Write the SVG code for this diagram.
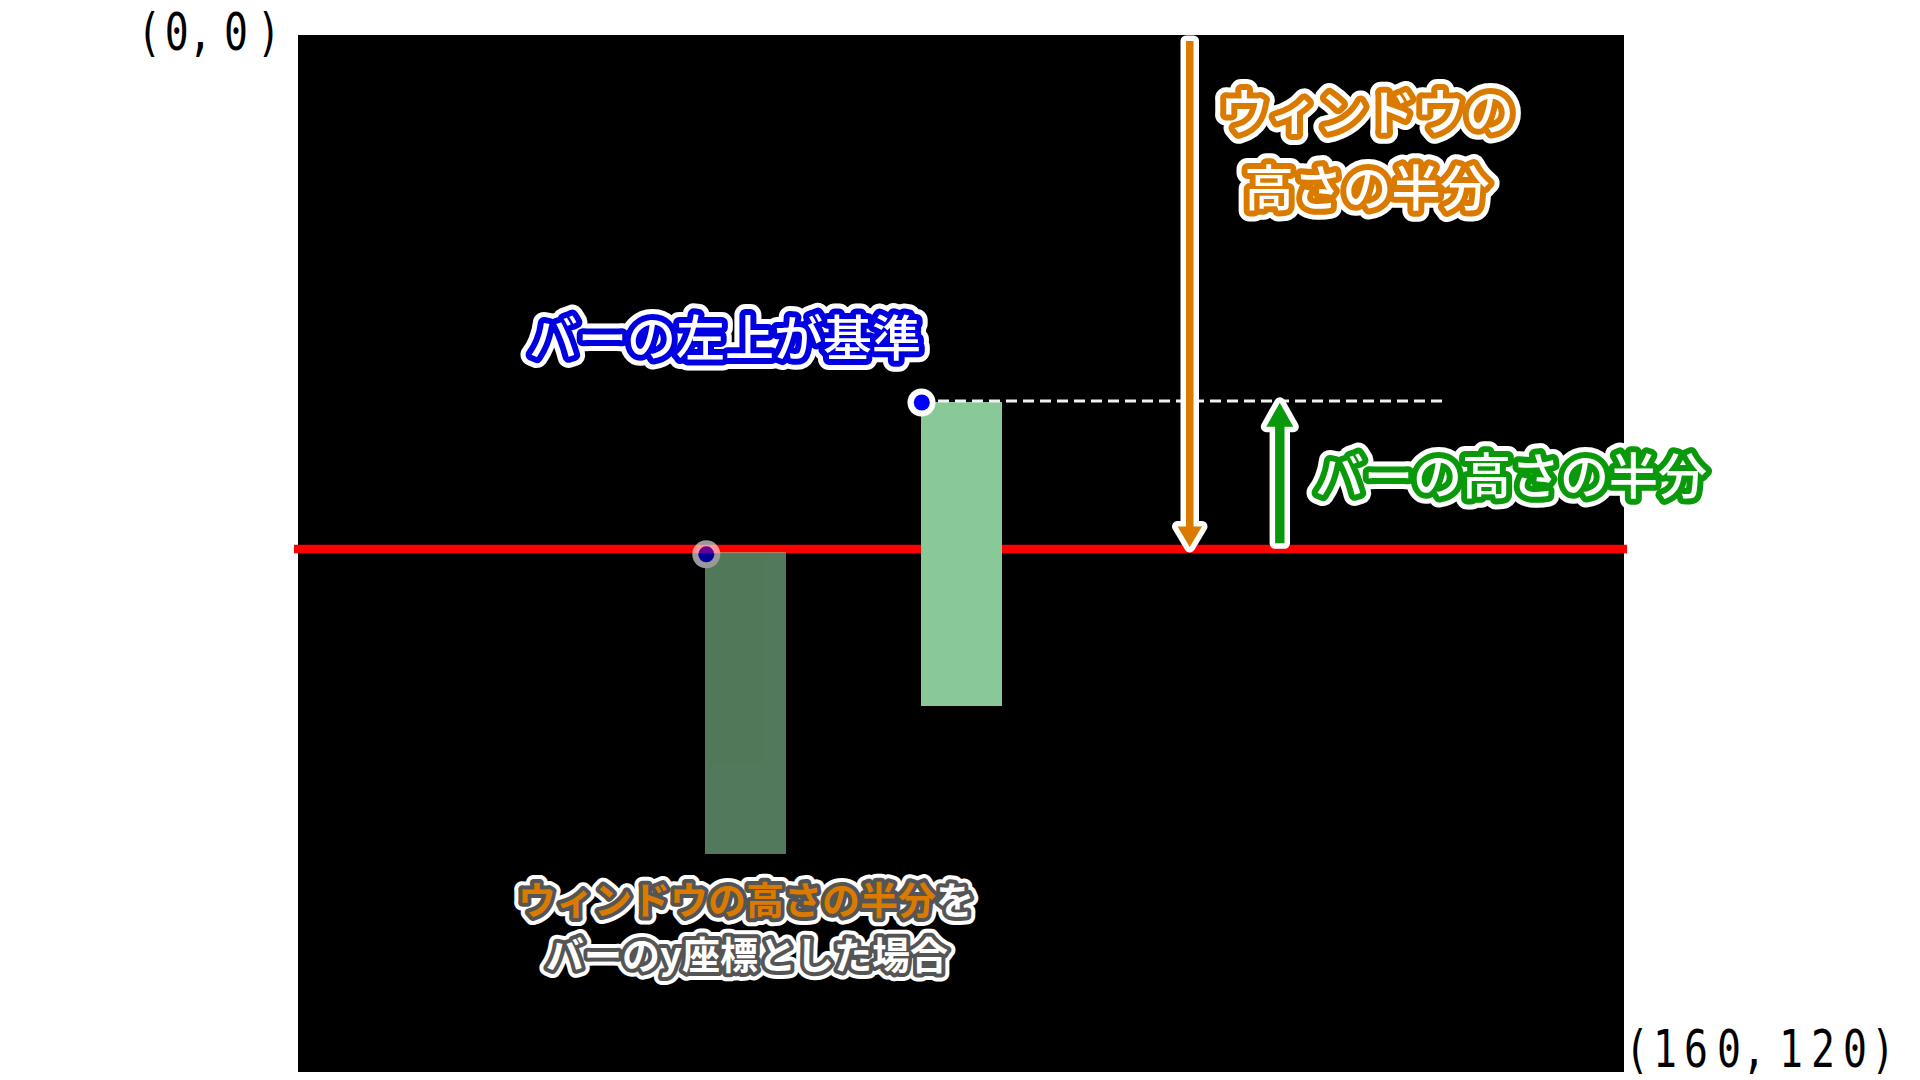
<svg xmlns="http://www.w3.org/2000/svg" width="1920" height="1080" viewBox="0 0 1920 1080">
  <style>
    .coord { font-family: "DejaVu Sans Mono", "Liberation Mono", monospace; font-size: 51px; fill: #000; text-anchor: middle; }
    .jp { font-family: "Noto Sans CJK JP", "Noto Sans", sans-serif; text-anchor: middle; }
    .big { font-size: 49px; font-weight: 500; }
    .small { font-size: 38px; font-weight: 700; }
    .halo { fill: #fff; stroke: #fff; stroke-width: 22px; stroke-linejoin: round; }
    .halo-s { fill: #fff; stroke: #fff; stroke-width: 16px; stroke-linejoin: round; }
    .ink-orange { fill: #fff; stroke: #DA7B00; stroke-width: 12px; stroke-linejoin: round; paint-order: stroke; }
    .ink-blue { fill: #fff; stroke: #0000E0; stroke-width: 12px; stroke-linejoin: round; paint-order: stroke; }
    .ink-green { fill: #fff; stroke: #0A990A; stroke-width: 12px; stroke-linejoin: round; paint-order: stroke; }
    .ink-gray { fill: #fff; stroke: #555; stroke-width: 8px; stroke-linejoin: round; paint-order: stroke; }
    .arrow-halo { fill: #fff; stroke: #fff; stroke-width: 11px; stroke-linejoin: round; }
    .bar { fill: #89C997; }
  </style>
  <defs>
    <text id="t-window" class="jp big"><tspan x="1367" y="130">ウィンドウの</tspan><tspan x="1367" y="206">高さの半分</tspan></text>
    <text id="t-origin" class="jp big" x="725" y="356">バーの左上が基準</text>
    <text id="t-barhalf" class="jp big" x="1511" y="494">バーの高さの半分</text>
    <text id="t-case" class="jp small"><tspan x="746" y="914"><tspan fill="#DA7B00">ウィンドウの高さの半分</tspan>を</tspan><tspan x="747" y="969">バーのy座標とした場合</tspan></text>
  </defs>

  <rect id="screen" x="298" y="35" width="1326" height="1037" fill="#000"/>

  <g id="coord-origin">
    <text class="coord" transform="scale(0.78 1)" x="191.3 226.5 256.8 279.5 302.6 344.6" y="50">(0, 0)</text>
  </g>
  <g id="coord-end">
    <text class="coord" transform="scale(0.78 1)" x="2098.7 2134.6 2174.4 2216.7 2248.7 2271.8 2296.2 2337.2 2378.2 2414.1" y="1067">(160, 120)</text>
  </g>

  <g id="center-line">
    <line x1="294" y1="549" x2="1627" y2="549" stroke="#FF0000" stroke-width="8.5"/>
  </g>

  <g id="bar-wrong" opacity="0.6">
    <rect class="bar" x="705" y="552" width="81" height="302"/>
    <circle cx="706.3" cy="554.3" r="14" fill="#fff"/>
    <circle cx="706.3" cy="554.3" r="8" fill="#0000FF"/>
  </g>

  <g id="bar">
    <rect class="bar" x="921" y="402" width="81" height="304"/>
  </g>

  <g id="connectors">
    <line x1="921" y1="401" x2="1445" y2="401" stroke="#f0f0f0" stroke-width="3" stroke-dasharray="11 6"/>
    <g id="arrow-window-half">
      <path class="arrow-halo" d="M1186,41 H1193.5 V526.5 H1202 L1189.75,547 L1177.5,526.5 H1186 Z"/>
      <path fill="#DA7B00" d="M1186,41 H1193.5 V526.5 H1202 L1189.75,547 L1177.5,526.5 H1186 Z"/>
    </g>
    <g id="arrow-bar-half">
      <path class="arrow-halo" d="M1279.8,402.7 L1293.3,426.7 H1284.5 V543.3 H1275.1 V426.7 H1266.3 Z"/>
      <path fill="#0A990A" d="M1279.8,402.7 L1293.3,426.7 H1284.5 V543.3 H1275.1 V426.7 H1266.3 Z"/>
    </g>
  </g>

  <g id="origin-dot">
    <circle cx="921.5" cy="402.5" r="14" fill="#fff"/>
    <circle cx="921.8" cy="402.5" r="8" fill="#0000FF"/>
  </g>

  <g id="label-window-half">
    <use href="#t-window" class="halo"/>
    <use href="#t-window" class="ink-orange"/>
  </g>
  <g id="label-origin">
    <use href="#t-origin" class="halo"/>
    <use href="#t-origin" class="ink-blue"/>
  </g>
  <g id="label-bar-half">
    <use href="#t-barhalf" class="halo"/>
    <use href="#t-barhalf" class="ink-green"/>
  </g>
  <g id="label-case">
    <use href="#t-case" class="halo-s"/>
    <use href="#t-case" class="ink-gray"/>
  </g>
</svg>
